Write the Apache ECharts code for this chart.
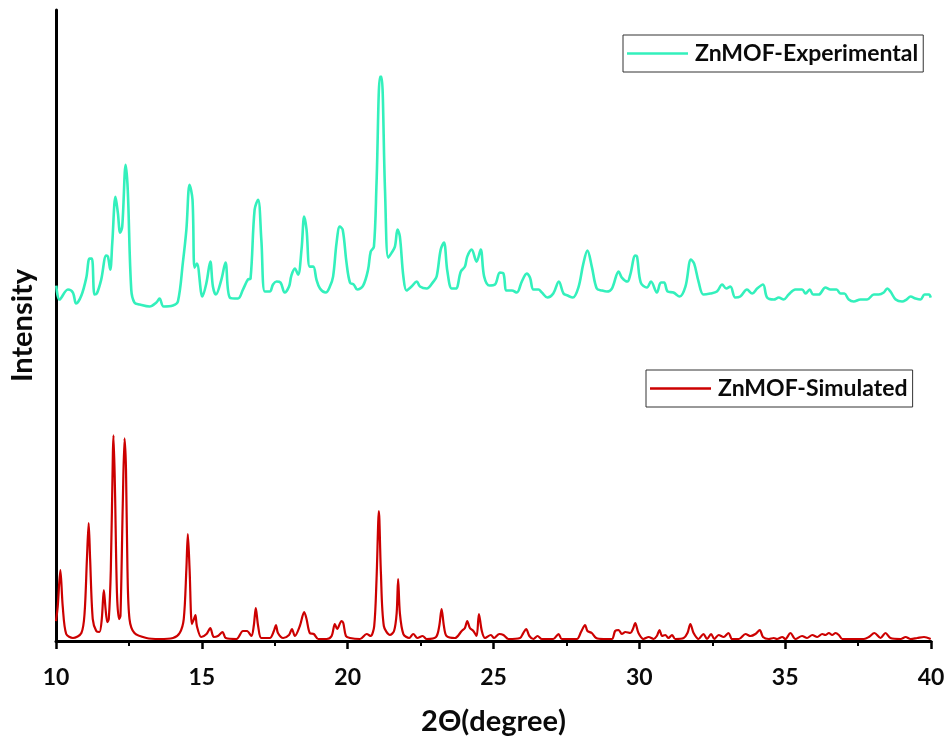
<!DOCTYPE html>
<html>
<head>
<meta charset="utf-8">
<script src="https://cdn.jsdelivr.net/npm/echarts@6/dist/echarts.min.js"></script>
<style>
html,body{margin:0;padding:0;background:#fff;}
#chart{width:946px;height:736px;}
</style>
</head>
<body>
<div id="chart"></div>
<script>
// Series names
const seriesNames = ['ZnMOF-Experimental', 'ZnMOF-Simulated'];

// Experimental pattern (2θ, intensity in a.u., offset as plotted)
const expTheta = [10.01,10.12,10.41,10.58,10.69,10.87,11.04,11.15,11.23,11.32,11.40,11.55,11.72,11.78,11.86,11.93,12.04,12.12,12.20,12.27,12.39,12.46,12.58,12.69,12.87,13.21,13.44,13.55,13.69,14.01,14.18,14.35,14.47,14.58,14.68,14.75,14.83,15.02,15.16,15.29,15.38,15.48,15.67,15.81,15.96,16.24,16.41,16.58,16.67,16.81,16.93,17.04,17.16,17.33,17.44,17.56,17.70,17.84,17.99,18.07,18.19,18.30,18.42,18.51,18.59,18.70,18.82,18.93,19.05,19.25,19.39,19.50,19.62,19.73,19.83,19.96,20.08,20.21,20.33,20.53,20.70,20.79,20.90,20.99,21.11,21.16,21.28,21.39,21.51,21.62,21.71,21.79,21.91,22.02,22.19,22.37,22.48,22.71,22.94,23.05,23.19,23.30,23.42,23.57,23.71,23.88,24.02,24.10,24.25,24.42,24.56,24.68,24.86,25.05,25.22,25.34,25.45,25.63,25.80,25.97,26.14,26.25,26.37,26.54,26.66,26.85,27.05,27.24,27.40,27.54,27.72,27.91,28.08,28.22,28.37,28.54,28.72,28.89,29.06,29.29,29.40,29.59,29.69,29.86,29.92,30.05,30.26,30.40,30.60,30.74,30.85,30.97,31.17,31.38,31.58,31.77,31.88,32.03,32.20,32.43,32.66,32.84,32.98,33.12,33.29,33.46,33.69,33.87,34.04,34.24,34.38,34.61,34.78,34.95,35.12,35.35,35.58,35.70,35.84,35.96,36.15,36.38,36.55,36.76,36.90,37.03,37.18,37.35,37.58,37.81,38.04,38.21,38.38,38.50,38.61,38.79,39.01,39.16,39.30,39.47,39.64,39.78,39.93,39.99];
const expIntensity = [356,342,352,349,338,346,364,383,383,347,348,362,386,385,372,399,445,429,409,415,477,452,352,339,337,335,339,343,335,336,340,379,412,457,442,374,378,345,359,380,355,347,362,379,344,343,352,362,363,432,442,402,350,350,357,360,359,349,355,366,373,367,393,425,412,375,375,362,353,349,355,365,399,415,412,379,359,357,352,356,372,390,395,459,565,565,452,384,389,395,412,405,365,351,355,360,355,353,360,365,392,399,370,353,353,370,375,385,392,380,392,365,356,357,369,368,351,351,349,360,368,364,352,352,349,344,348,360,348,346,344,354,378,391,375,353,351,350,353,370,364,360,367,386,385,359,354,360,349,359,359,350,349,345,355,382,378,360,347,348,350,357,353,355,344,345,352,348,353,357,344,342,344,342,347,352,352,348,352,347,347,354,352,352,348,348,342,340,342,342,347,347,349,353,350,342,340,342,345,343,342,347,347,344];

// Simulated pattern (2θ, intensity in a.u.)
const simTheta = [10.00,10.06,10.15,10.23,10.35,10.58,10.87,10.98,11.06,11.12,11.17,11.26,11.38,11.49,11.57,11.64,11.70,11.76,11.81,11.88,11.95,11.97,12.02,12.09,12.16,12.21,12.29,12.35,12.40,12.45,12.52,12.69,13.10,13.55,14.01,14.24,14.38,14.47,14.52,14.58,14.66,14.73,14.78,14.83,14.98,15.16,15.29,15.41,15.55,15.71,15.82,16.19,16.41,16.55,16.70,16.78,16.85,16.93,17.04,17.33,17.47,17.54,17.61,17.79,17.99,18.09,18.19,18.36,18.51,18.59,18.70,18.84,18.99,19.28,19.45,19.56,19.64,19.79,19.85,19.94,20.08,20.42,20.65,20.79,20.91,20.99,21.07,21.14,21.24,21.45,21.59,21.68,21.73,21.79,21.91,22.11,22.25,22.39,22.57,22.71,23.03,23.14,23.22,23.30,23.39,23.68,23.91,24.02,24.10,24.19,24.31,24.42,24.50,24.60,24.71,24.91,25.02,25.20,25.34,25.51,25.91,26.02,26.12,26.23,26.37,26.51,26.66,27.05,27.23,27.34,27.86,28.00,28.14,28.22,28.37,28.52,28.77,29.06,29.17,29.29,29.40,29.52,29.69,29.78,29.86,29.97,30.14,30.32,30.49,30.60,30.69,30.78,30.89,31.00,31.12,31.23,31.52,31.65,31.75,31.86,32.03,32.20,32.32,32.46,32.57,32.72,32.89,33.06,33.18,33.41,33.64,33.81,33.98,34.13,34.24,34.44,34.61,34.72,34.90,35.01,35.18,35.35,35.58,35.75,35.93,36.10,36.27,36.38,36.50,36.61,36.73,36.84,36.96,37.35,37.70,37.87,38.06,38.27,38.44,38.61,38.96,39.13,39.30,39.53,39.76,39.99];
const simIntensity = [20,35,71,35,7,3,8,28,82,118,82,22,10,9,22,51,32,19,22,72,188,206,155,48,22,25,138,203,172,72,22,8,3,2,3,8,22,72,107,72,17,22,26,15,4,7,13,4,5,9,3,2,10,10,5,15,33,15,3,3,10,16,8,3,6,12,5,15,29,22,8,7,2,2,5,17,12,20,18,5,3,2,7,5,15,62,130,68,15,6,10,28,62,28,7,3,7,3,5,2,4,15,32,15,5,3,10,13,20,13,10,5,27,10,3,6,3,7,6,2,3,8,12,5,2,5,2,2,7,2,2,9,16,10,8,3,2,2,10,11,7,9,8,12,18,8,2,4,2,5,11,5,6,3,6,2,3,8,17,8,2,7,2,7,2,6,4,8,2,2,7,5,7,11,4,2,3,2,4,2,8,2,5,3,6,4,7,6,8,6,8,6,2,2,2,4,8,3,8,3,2,4,2,3,4,2];

// Axis settings (values)
const xMin = 10, xMax = 40, xInterval = 5;
const yMin = 0, yMax = 632;

const expData = expTheta.map((t, i) => [t, expIntensity[i]]);
const simData = simTheta.map((t, i) => [t, simIntensity[i]]);

const FONT = 'Lato';
const TEXT = '#0a0a0a';
const chart = echarts.init(document.getElementById('chart'), null, {renderer: 'canvas'});
chart.setOption({
  animation: false,
  backgroundColor: '#ffffff',
  grid: {left: 56, right: 15, top: 10, bottom: 95, containLabel: false, outerBoundsMode: 'none'},
  xAxis: {
    type: 'value', min: xMin, max: xMax, interval: xInterval,
    name: '2\u0398(degree)', nameLocation: 'middle', nameGap: 66,
    nameTextStyle: {fontFamily: FONT, fontWeight: 'bold', fontSize: 29, color: TEXT},
    axisLine: {show: true, onZero: false, lineStyle: {color: '#000', width: 3}},
    axisTick: {show: true, inside: false, length: 8, lineStyle: {color: '#000', width: 2.5}},
    minorTick: {show: true, splitNumber: 2, length: 5, lineStyle: {color: '#000', width: 2}},
    axisLabel: {fontFamily: FONT, fontWeight: 'bold', fontSize: 23, color: TEXT, margin: 25},
    splitLine: {show: false}
  },
  yAxis: {
    type: 'value', min: yMin, max: yMax,
    name: 'Intensity', nameLocation: 'middle', nameGap: 19, nameRotate: 90,
    nameTextStyle: {fontFamily: FONT, fontWeight: 'bold', fontSize: 29, color: TEXT},
    axisLine: {show: true, onZero: false, lineStyle: {color: '#000', width: 3}},
    axisTick: {show: false},
    axisLabel: {show: false},
    splitLine: {show: false}
  },
  legend: [
    {
      data: [seriesNames[0]], left: 623, top: 35, icon: 'rect',
      itemWidth: 61, itemHeight: 2.5, itemGap: 0,
      padding: [7, 5, 7, 4], borderColor: '#333', borderWidth: 1,
      textStyle: {fontFamily: FONT, fontWeight: 'bold', fontSize: 23, color: TEXT, padding: [0, 0, 0, 2]}
    },
    {
      data: [seriesNames[1]], left: 646, top: 370, icon: 'rect',
      itemWidth: 61, itemHeight: 2.5, itemGap: 0,
      padding: [7, 5, 7, 4], borderColor: '#333', borderWidth: 1,
      textStyle: {fontFamily: FONT, fontWeight: 'bold', fontSize: 23, color: TEXT, padding: [0, 0, 0, 2]}
    }
  ],
  series: [
    {
      name: seriesNames[0], type: 'line', data: expData, symbol: 'none', smooth: 0.35,
      lineStyle: {color: '#33F0BC', width: 2.6}, itemStyle: {color: '#33F0BC'}, z: 3
    },
    {
      name: seriesNames[1], type: 'line', data: simData, symbol: 'none', smooth: 0.3,
      lineStyle: {color: '#CC0000', width: 2.2}, itemStyle: {color: '#CC0000'}, z: 2
    }
  ]
});
</script>
</body>
</html>
